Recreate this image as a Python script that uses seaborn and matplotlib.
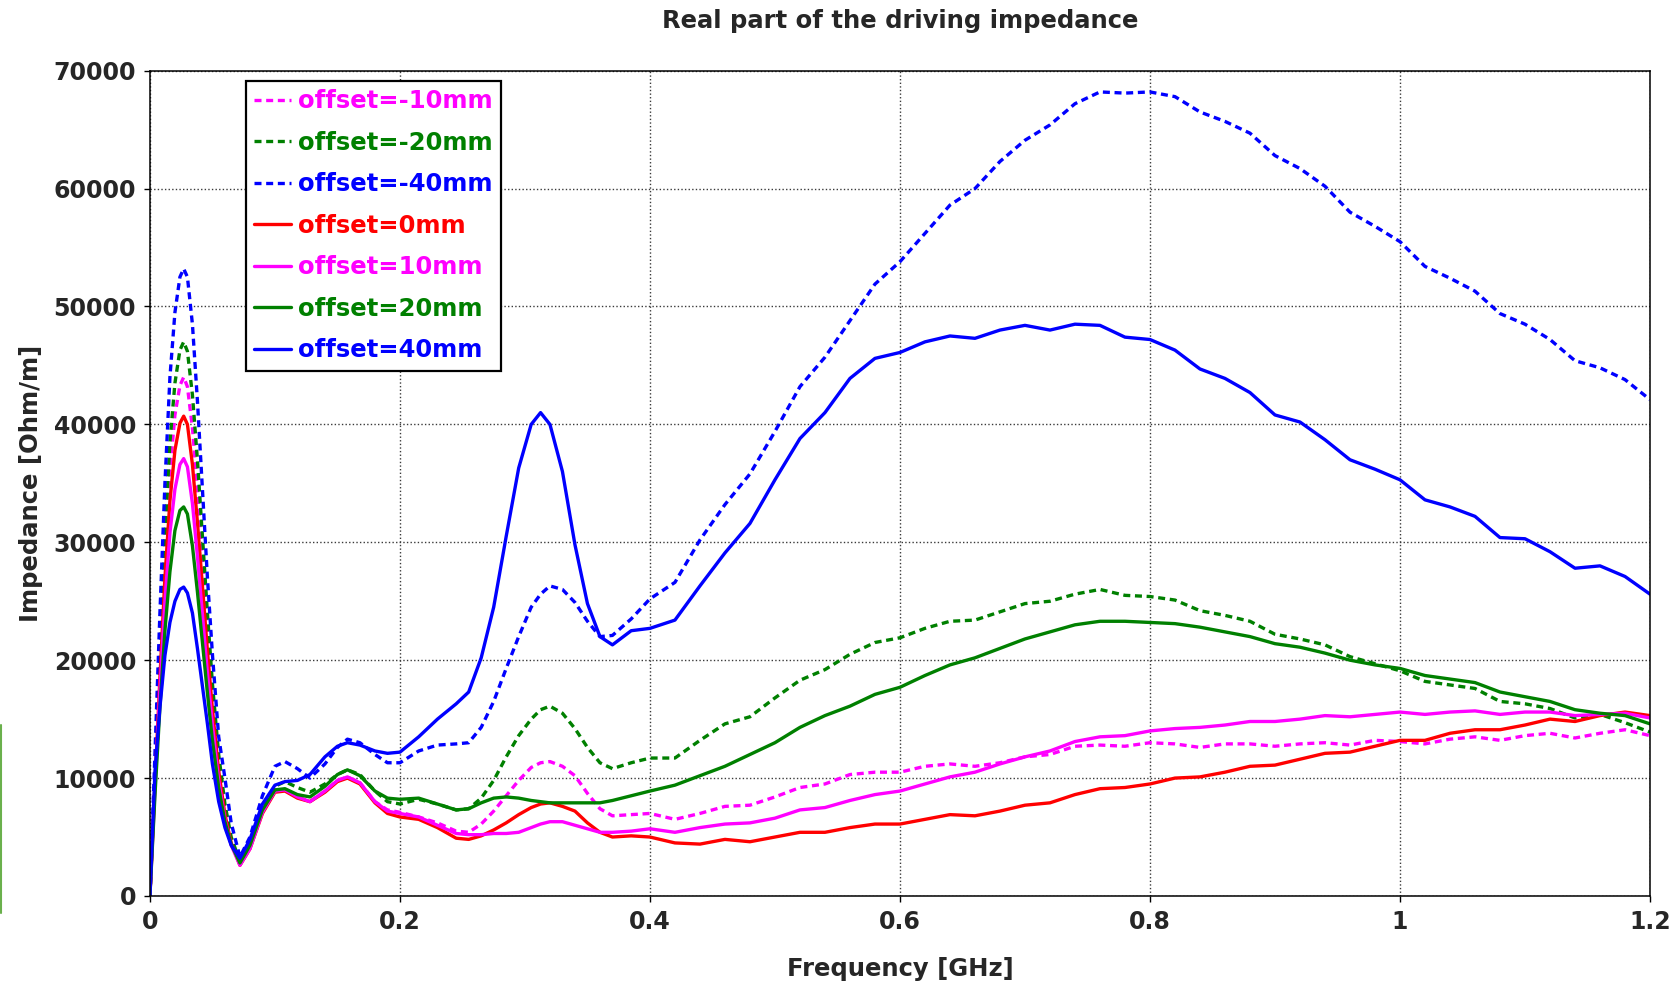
import matplotlib
matplotlib.use("Agg")
import matplotlib.pyplot as plt
from matplotlib.lines import Line2D
import seaborn as sns
import pandas as pd

# Frequency samples [GHz]
freq_ghz = [
    0, 0.004, 0.008, 0.012, 0.016, 0.020, 0.024, 0.027, 0.030, 0.034,
    0.038, 0.042, 0.046, 0.050, 0.055, 0.060, 0.065, 0.072, 0.080, 0.090,
    0.100, 0.108, 0.118, 0.128, 0.140, 0.150, 0.158, 0.168, 0.180, 0.190,
    0.200,
    0.215, 0.230, 0.245, 0.255, 0.265, 0.275, 0.285, 0.295, 0.305, 0.3125,
    0.320, 0.330, 0.340, 0.350, 0.360, 0.370, 0.385, 0.400,
    0.42, 0.44, 0.46, 0.48, 0.50, 0.52, 0.54, 0.56, 0.58, 0.60,
    0.62, 0.64, 0.66, 0.68, 0.70, 0.72, 0.74, 0.76, 0.78, 0.80,
    0.82, 0.84, 0.86, 0.88, 0.90, 0.92, 0.94, 0.96, 0.98, 1.00,
    1.02, 1.04, 1.06, 1.08, 1.10, 1.12, 1.14, 1.16, 1.18, 1.20,
]

# Real part of the driving impedance [Ohm/m] for each beam offset
z_m10 = [
    0, 10000, 19500, 28500, 36000, 40800, 43300, 44000, 43200, 39700,
    34500, 28500, 22500, 17000, 11300, 7300, 4700, 2700, 4200, 7200,
    8900, 9000, 8400, 8000, 8900, 9800, 10100, 9600, 8000, 7300,
    7100,
    6700, 6200, 5500, 5400, 6100, 7200, 8500, 9800, 10900, 11300,
    11400, 11000, 10200, 8700, 7400, 6800, 6900, 7000,
    6500, 7000, 7600, 7700, 8400, 9200, 9500, 10300, 10500, 10500,
    11000, 11200, 11000, 11300, 11800, 12000, 12700, 12800, 12700, 13000,
    12900, 12600, 12900, 12900, 12700, 12900, 13000, 12800, 13200, 13100,
    12900, 13300, 13500, 13200, 13600, 13800, 13400, 13800, 14100, 13600,
]
z_m20 = [
    0, 10000, 20500, 30500, 38500, 43500, 46300, 47000, 46200, 42500,
    37000, 30500, 24000, 18000, 12000, 7800, 5000, 2900, 4300, 7300,
    9300, 9700, 9200, 8800, 9500, 10300, 10700, 10300, 8900, 8000,
    7800,
    8200, 7800, 7300, 7400, 8300, 9800, 11800, 13600, 15000, 15800,
    16100, 15500, 14200, 12600, 11300, 10800, 11300, 11700,
    11700, 13200, 14600, 15200, 16800, 18300, 19200, 20500, 21500, 21900,
    22700, 23300, 23400, 24100, 24800, 25000, 25600, 26000, 25500, 25400,
    25100, 24200, 23800, 23300, 22200, 21800, 21300, 20300, 19700, 19100,
    18200, 17900, 17600, 16500, 16300, 15900, 15100, 15400, 14700, 13900,
]
z_m40 = [
    0, 12000, 24000, 35000, 44000, 49500, 52500, 53200, 52500, 48500,
    42000, 34500, 27000, 20500, 13500, 10000, 6200, 3300, 5000, 8500,
    11000, 11400, 10800, 10000, 11200, 12600, 13300, 13000, 12000, 11300,
    11300,
    12300, 12800, 12900, 13000, 14300, 16500, 19300, 22000, 24500, 25600,
    26300, 26000, 24900, 23300, 22000, 22100, 23500, 25200,
    26600, 30200, 33200, 35800, 39400, 43200, 45700, 48800, 51900, 53800,
    56200, 58600, 60000, 62300, 64100, 65400, 67200, 68200, 68100, 68200,
    67800, 66500, 65700, 64700, 62800, 61700, 60200, 58000, 56800, 55500,
    53400, 52400, 51300, 49400, 48500, 47200, 45400, 44800, 43800, 42100,
]
z_0 = [
    0, 9500, 18500, 27000, 33500, 37800, 40100, 40700, 40000, 36600,
    31700, 26300, 20800, 15800, 10600, 6900, 4500, 2600, 4000, 7000,
    8800, 8900, 8300, 8000, 8800, 9700, 10000, 9500, 7900, 7000,
    6700,
    6500, 5800, 4900, 4800, 5100, 5600, 6200, 6900, 7500, 7800,
    7900, 7600, 7200, 6200, 5400, 5000, 5100, 5000,
    4500, 4400, 4800, 4600, 5000, 5400, 5400, 5800, 6100, 6100,
    6500, 6900, 6800, 7200, 7700, 7900, 8600, 9100, 9200, 9500,
    10000, 10100, 10500, 11000, 11100, 11600, 12100, 12200, 12700, 13200,
    13200, 13800, 14100, 14100, 14500, 15000, 14800, 15300, 15600, 15300,
]
z_p10 = [
    0, 9000, 17500, 25000, 30800, 34500, 36600, 37100, 36400, 33300,
    28800, 23900, 18900, 14500, 9800, 6500, 4300, 2600, 4000, 7100,
    8900, 9000, 8400, 8000, 8900, 9800, 10100, 9600, 8000, 7200,
    7000,
    6700, 6000, 5300, 5200, 5200, 5300, 5300, 5400, 5800, 6100,
    6300, 6300, 6000, 5700, 5400, 5400, 5500, 5700,
    5400, 5800, 6100, 6200, 6600, 7300, 7500, 8100, 8600, 8900,
    9500, 10100, 10500, 11200, 11800, 12300, 13100, 13500, 13600, 14000,
    14200, 14300, 14500, 14800, 14800, 15000, 15300, 15200, 15400, 15600,
    15400, 15600, 15700, 15400, 15600, 15600, 15300, 15400, 15500, 15100,
]
z_p20 = [
    0, 8500, 16000, 22500, 27500, 31000, 32700, 33000, 32400, 29700,
    25800, 21500, 17200, 13200, 9200, 6300, 4400, 2800, 4300, 7300,
    9000, 9100, 8600, 8400, 9300, 10300, 10700, 10200, 8900, 8300,
    8200,
    8300, 7800, 7300, 7400, 7900, 8300, 8400, 8300, 8100, 8000,
    7900, 7900, 7900, 7900, 7900, 8100, 8500, 8900,
    9400, 10200, 11000, 12000, 13000, 14300, 15300, 16100, 17100, 17700,
    18700, 19600, 20200, 21000, 21800, 22400, 23000, 23300, 23300, 23200,
    23100, 22800, 22400, 22000, 21400, 21100, 20600, 20000, 19600, 19300,
    18700, 18400, 18100, 17300, 16900, 16500, 15800, 15500, 15300, 14600,
]
z_p40 = [
    0, 10500, 16000, 20400, 23200, 25000, 26000, 26200, 25700, 24000,
    21000, 17800, 14600, 11200, 8000, 5800, 4300, 3200, 4800, 7800,
    9400, 9700, 9800, 10300, 11800, 12700, 13000, 12800, 12300, 12100,
    12200,
    13500, 15000, 16300, 17300, 20200, 24500, 30500, 36300, 40000, 41000,
    40000, 36000, 29800, 24800, 22000, 21300, 22500, 22700,
    23400, 26300, 29100, 31600, 35300, 38800, 41000, 43900, 45600, 46100,
    47000, 47500, 47300, 48000, 48400, 48000, 48500, 48400, 47400, 47200,
    46300, 44700, 43900, 42700, 40800, 40200, 38700, 37000, 36200, 35300,
    33600, 33000, 32200, 30400, 30300, 29200, 27800, 28000, 27100, 25600,
]

series_labels = ["offset=-10mm", "offset=-20mm", "offset=-40mm", "offset=0mm",
                 "offset=10mm", "offset=20mm", "offset=40mm"]
series_values = [z_m10, z_m20, z_m40, z_0, z_p10, z_p20, z_p40]
series_colors = ["#ff00ff", "#008000", "#0000ff", "#ff0000",
                 "#ff00ff", "#008000", "#0000ff"]
series_dashed = [True, True, True, False, False, False, False]

x_ticks = [0, 0.2, 0.4, 0.6, 0.8, 1.0, 1.2]
x_tick_labels = ["0", "0.2", "0.4", "0.6", "0.8", "1", "1.2"]
y_ticks = [0, 10000, 20000, 30000, 40000, 50000, 60000, 70000]

sns.set_style("ticks")
plt.rcParams["font.family"] = ["DejaVu Sans"]
plt.rcParams["font.weight"] = "bold"

fig = plt.figure(figsize=(16.77, 9.82), dpi=100)
ax = fig.add_axes([0.0894, 0.0876, 0.8945, 0.8404])

for label, vals, color, dashed in zip(series_labels, series_values,
                                      series_colors, series_dashed):
    df = pd.DataFrame({"Frequency": freq_ghz, "Impedance": vals})
    ls = (0, (2.1, 1.4)) if dashed else "-"
    sns.lineplot(data=df, x="Frequency", y="Impedance", ax=ax, color=color,
                 linestyle=ls, linewidth=2.4, label=label,
                 estimator=None, sort=False)

ax.set_xlim(0, 1.2)
ax.set_ylim(0, 70000)
ax.set_xticks(x_ticks)
ax.set_xticklabels(x_tick_labels)
ax.set_yticks(y_ticks)
ax.set_yticklabels([str(v) for v in y_ticks])
ax.tick_params(axis="both", which="major", direction="out", length=4,
               width=1.0, color="black", labelsize=17, pad=6)
for lbl in ax.get_xticklabels() + ax.get_yticklabels():
    lbl.set_fontweight("bold")

ax.grid(True, linestyle=(0, (1.0, 1.6)), color="#3a3a3a", linewidth=1.0)
ax.set_axisbelow(True)
for sp in ax.spines.values():
    sp.set_visible(True)
    sp.set_color("black")
    sp.set_linewidth(1.1)

ax.set_title("Real part of the driving impedance", fontsize=17.5,
             fontweight="bold", pad=31)
ax.set_xlabel("Frequency [GHz]", fontsize=17.5, fontweight="bold")
ax.set_ylabel("Impedance [Ohm/m]", fontsize=17.5, fontweight="bold")
ax.xaxis.set_label_coords(0.5, -0.0735)
ax.yaxis.set_label_coords(-0.071, 0.5)

leg = ax.legend(loc="upper left", bbox_to_anchor=(0.064, 0.988),
                borderaxespad=0, fancybox=False, framealpha=1,
                edgecolor="black", handlelength=1.5,
                handletextpad=0.3, labelspacing=0.72, borderpad=0.35,
                prop={"weight": "bold", "size": 17.5})
leg.get_frame().set_linewidth(1.6)
for txt, color in zip(leg.get_texts(), series_colors):
    txt.set_color(color)

# thin green strip along the left edge
fig.add_artist(Line2D([0.0006, 0.0006], [1 - 913 / 982, 1 - 725 / 982],
                      transform=fig.transFigure, color="#6ab04c", lw=1.5))

fig.savefig("out.png", dpi=100)
